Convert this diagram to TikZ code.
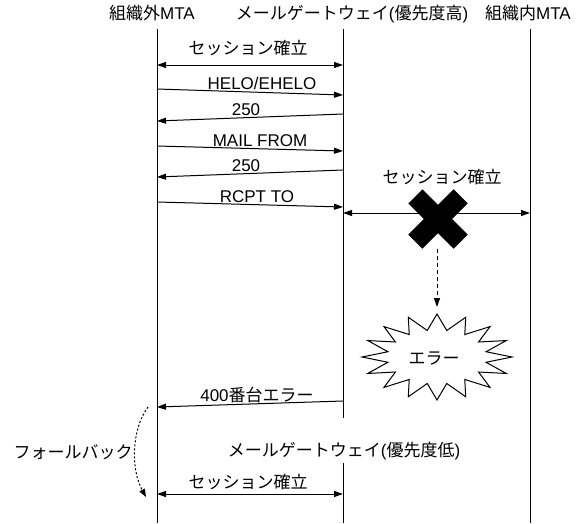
\documentclass[tikz,border=0pt]{standalone}
\usepackage{fontspec}
\setmainfont{Liberation Sans}
\newfontfamily\jp{Noto Sans CJK JP}
\usetikzlibrary{arrows.meta}
\begin{document}
\begin{tikzpicture}[x=1pt,y=-1pt,
  lbl/.style={inner sep=0pt, text height=12.5pt, text depth=0pt, font=\fontsize{17}{20}\selectfont},
  life/.style={line width=1pt},
  tip/.style={-{Triangle[length=9pt,width=6pt]}},
  msg/.style={line width=1pt, tip},
  dmsg/.style={line width=1pt, {Triangle[length=9pt,width=6pt]}-{Triangle[length=9pt,width=6pt]}},
  burst/.style={line width=1pt, fill=white},
  dashline/.style={line width=1pt, dash pattern=on 4pt off 3pt, tip},
  dotline/.style={line width=1pt, dash pattern=on 2pt off 2pt, -{Triangle[length=8pt,width=6pt]}},
]
\useasboundingbox (0,0) rectangle (576,523);

% headers
\node[lbl] (hL) at (152,13) {{\jp 組織外}MTA};
\node[lbl] (hM) at (352,13) {{\jp メールゲートウェイ}({\jp 優先度高})};
\node[lbl] (hR) at (528,13) {{\jp 組織内}MTA};

% lifelines
\coordinate (Ltop) at (157,29); \coordinate (Lbot) at (157,523);
\coordinate (Mtop) at (343,29); \coordinate (Mgap1) at (343,418);
\coordinate (Mgap2) at (343,463); \coordinate (Mbot) at (343,523);
\coordinate (Rtop) at (530,29); \coordinate (Rbot) at (530,523);
\draw[life] (Ltop) -- (Lbot);
\draw[life] (Mtop) -- (Mgap1);
\draw[life] (Mgap2) -- (Mbot);
\draw[life] (Rtop) -- (Rbot);

% messages
\node[lbl] (t1) at (248,48) {\jp セッション確立};
\coordinate (a1) at (157,65); \coordinate (b1) at (343,65);
\draw[dmsg] (a1) -- (b1);

\node[lbl] (t2) at (262,83) {HELO/EHELO};
\coordinate (a2) at (157,89); \coordinate (b2) at (343,95);
\draw[msg] (a2) -- (b2);

\node[lbl] (t3) at (246,109) {250};
\coordinate (a3) at (343,114); \coordinate (b3) at (157,121);
\draw[msg] (a3) -- (b3);

\node[lbl] (t4) at (260,140) {MAIL FROM};
\coordinate (a4) at (157,146); \coordinate (b4) at (343,151);
\draw[msg] (a4) -- (b4);

\node[lbl] (t5) at (246,165) {250};
\coordinate (a5) at (343,170); \coordinate (b5) at (157,177);
\draw[msg] (a5) -- (b5);

\node[lbl] (t6) at (257,196) {RCPT TO};
\coordinate (a6) at (157,202); \coordinate (b6) at (343,207);
\draw[msg] (a6) -- (b6);

\node[lbl] (t7) at (442,177) {\jp セッション確立};
\coordinate (a7) at (343,213); \coordinate (b7) at (530,213);
\draw[dmsg] (a7) -- (b7);

% big X
\node[inner sep=0pt, minimum size=1pt] (xm) at (438,219) {};
\fill[shift={(xm)}, rotate=45]
  (10,10) -- (32,10) -- (32,-10) -- (10,-10) -- (10,-32) -- (-10,-32) -- (-10,-10)
  -- (-32,-10) -- (-32,10) -- (-10,10) -- (-10,32) -- (10,32) -- cycle;

% dashed arrow to error
\coordinate (d1) at (437,249); \coordinate (d2) at (437,307);
\draw[dashline] (d1) -- (d2);

% starburst
\draw[burst, shift={(437,357)}] (0,-43)
  \foreach \i in {1,...,31}{ -- ({ifthenelse(isodd(\i),50,75)*cos(90+\i*11.25)},{-ifthenelse(isodd(\i),27,43)*sin(90+\i*11.25)}) } -- cycle;
\node[lbl] (err) at (434,358) {\jp エラー};

% 400 error
\node[lbl] (t8) at (257,395) {400{\jp 番台エラー}};
\coordinate (a8) at (343,401); \coordinate (b8) at (157,407);
\draw[msg] (a8) -- (b8);

% fallback
\node[lbl] (fb) at (73,452) {\jp フォールバック};
\coordinate (f1) at (148,407); \coordinate (f2) at (146,497);
\draw[dotline] (f1) .. controls (131,430) and (131,470) .. (f2);

\node[lbl] (hM2) at (344,450) {{\jp メールゲートウェイ}({\jp 優先度低})};

\node[lbl] (t9) at (248,482) {\jp セッション確立};
\coordinate (a9) at (157,494); \coordinate (b9) at (343,494);
\draw[dmsg] (a9) -- (b9);
\end{tikzpicture}
\end{document}
